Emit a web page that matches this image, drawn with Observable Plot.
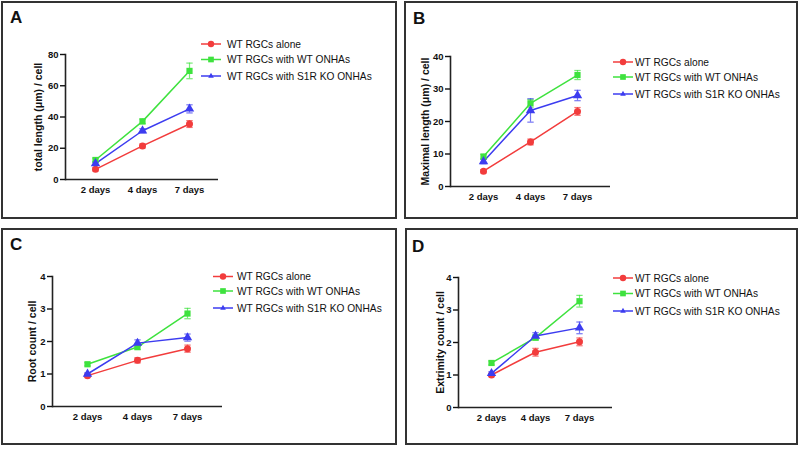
<!DOCTYPE html>
<html><head><meta charset="utf-8">
<script src="https://cdn.jsdelivr.net/npm/d3@7"></script>
<script src="https://cdn.jsdelivr.net/npm/@observablehq/plot@0.6"></script>
<style>
body{margin:0;background:#fff;font-family:"Liberation Sans",Arial,sans-serif;}
#root{position:relative;width:800px;height:449px;overflow:hidden;background:#fff;}
.panel{position:absolute;box-sizing:border-box;border:2px solid #333;}
.letter{position:absolute;font-weight:bold;font-size:17px;line-height:1;color:#111;}
#root svg{position:absolute;}
</style>
</head><body><div id="root"></div>
<script>
// ---- data ----
const days = ["2 days", "4 days", "7 days"];
const seriesNames = ["WT RGCs alone", "WT RGCs with WT ONHAs", "WT RGCs with S1R KO ONHAs"];
const seriesColors = ["#f23c3c", "#3ee23e", "#3c3cf0"];
const seriesSymbols = ["circle", "square", "triangle"];
const panelLetters = ["A", "B", "C", "D"];
const yLabels = ["total length (μm) / cell", "Maximal length (μm) / cell", "Root count / cell", "Extrimity count / cell"];
const yTicksA = [0, 20, 40, 60, 80];
const yTicksB = [0, 10, 20, 30, 40];
const yTicksC = [0, 1, 2, 3, 4];
const yTicksD = [0, 1, 2, 3, 4];

const totalLengthMean = [[6.5, 21.5, 35.5], [12.5, 37.2, 69.5], [10.2, 31.2, 45.2]];
const totalLengthSem  = [[1.0, 1.3, 2.2], [1.2, 1.5, 5.0], [1.0, 1.3, 2.6]];
const maxLengthMean   = [[4.7, 13.7, 23.1], [9.2, 25.6, 34.3], [7.7, 23.4, 28.0]];
const maxLengthSem    = [[0.5, 0.9, 1.2], [0.7, 1.2, 1.4], [0.7, 3.6, 1.6]];
const rootCountMean   = [[0.95, 1.42, 1.78], [1.30, 1.83, 2.86], [1.00, 1.95, 2.12]];
const rootCountSem    = [[0.05, 0.08, 0.11], [0.05, 0.08, 0.16], [0.04, 0.10, 0.11]];
const extrimityMean   = [[1.00, 1.70, 2.02], [1.37, 2.15, 3.27], [1.05, 2.20, 2.45]];
const extrimitySem    = [[0.05, 0.12, 0.12], [0.06, 0.08, 0.18], [0.05, 0.10, 0.18]];

// ---- layout ----
const panels = [
  {box:[1,1,396,218], m:[53,179,40,64], pad:0.62, ticks:yTicksA, mean:totalLengthMean, sem:totalLengthSem, labelDx:-27, leg:{mx:211, tx:227, ys:[44,59.5,76]}, letter:[10,9]},
  {box:[404,1,394,218], m:[55,188,33,46], pad:0.68, ticks:yTicksB, mean:maxLengthMean, sem:maxLengthSem, labelDx:-25, leg:{mx:623, tx:635, ys:[62,77,94]}, letter:[413,10]},
  {box:[1,228,396,217], m:[48,175,39,51], pad:0.68, ticks:yTicksC, mean:rootCountMean, sem:rootCountSem, labelDx:-20, leg:{mx:223, tx:237, ys:[276.5,291,308]}, letter:[10,236]},
  {box:[405,228,393,217], m:[49,186,38,53], pad:0.73, ticks:yTicksD, mean:extrimityMean, sem:extrimitySem, labelDx:-18, leg:{mx:623, tx:635, ys:[278,293.5,311]}, letter:[412,238]}
];

const root = document.getElementById("root");
const capSymbol = {draw(ctx, size){ const w = Math.sqrt(size) / 2; ctx.moveTo(-w, 0); ctx.lineTo(w, 0); }};
const FONT = "Liberation Sans, Arial, sans-serif";

panels.forEach((p, k) => {
  const [bx, by, bw, bh] = p.box;
  const box = document.createElement("div");
  box.className = "panel";
  Object.assign(box.style, {left: bx + "px", top: by + "px", width: bw + "px", height: bh + "px"});
  root.appendChild(box);

  const rows = [];
  seriesNames.forEach((s, i) => days.forEach((d, j) => rows.push({day: d, series: s, mean: p.mean[i][j], lo: p.mean[i][j] - p.sem[i][j], hi: p.mean[i][j] + p.sem[i][j]})));

  const svg = Plot.plot({
    width: bw, height: bh,
    marginTop: p.m[0], marginRight: p.m[1], marginBottom: p.m[2], marginLeft: p.m[3],
    style: {background: "transparent", overflow: "visible", fontFamily: FONT, color: "#111"},
    x: {type: "point", domain: days, padding: p.pad},
    y: {domain: [p.ticks[0], p.ticks[p.ticks.length - 1]]},
    color: {domain: seriesNames, range: seriesColors},
    symbol: {domain: seriesNames, range: seriesSymbols},
    marks: [
      Plot.ruleX(rows, {x: "day", y1: "lo", y2: "hi", stroke: "series", strokeWidth: 1.2, strokeOpacity: 0.7}),
      Plot.dot(rows, {x: "day", y: "lo", symbol: capSymbol, r: 3.6, stroke: "series", fill: "none", strokeWidth: 1.2, strokeOpacity: 0.7}),
      Plot.dot(rows, {x: "day", y: "hi", symbol: capSymbol, r: 3.6, stroke: "series", fill: "none", strokeWidth: 1.2, strokeOpacity: 0.7}),
      Plot.line(rows, {x: "day", y: "mean", z: "series", stroke: "series", strokeWidth: 1.5}),
      Plot.dot(rows, {x: "day", y: "mean", symbol: "series", fill: "series", stroke: "none", r: 3.5}),
      Plot.ruleY([p.ticks[0]], {stroke: "#222", strokeWidth: 1.6}),
      Plot.frame({anchor: "left", stroke: "#222", strokeWidth: 1.6}),
      Plot.axisY({ticks: p.ticks, tickFormat: d => String(d), tickSize: 5, tickPadding: 2, fontSize: 9.5, fontWeight: "bold", label: null, strokeWidth: 1.4}),
      Plot.axisX({tickSize: 0, tickPadding: 7, fontSize: 9.5, fontWeight: "bold", label: null}),
      Plot.text([yLabels[k]], {frameAnchor: "left", textAnchor: "middle", lineAnchor: "middle", dx: p.labelDx, rotate: -90, fontSize: 10.5, fontWeight: "bold", fill: "#111"})
    ]
  });
  svg.style.left = bx + "px";
  svg.style.top = by + "px";
  root.appendChild(svg);

  const L = document.createElement("div");
  L.className = "letter";
  L.textContent = panelLetters[k];
  L.style.left = p.letter[0] + "px";
  L.style.top = p.letter[1] + "px";
  root.appendChild(L);
});

// ---- legends ----
const overlay = d3.select(root).append("svg").attr("width", 800).attr("height", 449).style("left", "0px").style("top", "0px");
const d3Sym = {circle: d3.symbolCircle, square: d3.symbolSquare, triangle: d3.symbolTriangle2};
const legSize = {circle: 3.2, square: 3.2, triangle: 2.7};
panels.forEach(p => {
  seriesNames.forEach((s, i) => {
    const y = p.leg.ys[i];
    const g = overlay.append("g");
    g.append("line").attr("x1", p.leg.mx - 10).attr("x2", p.leg.mx + 10).attr("y1", y).attr("y2", y)
      .attr("stroke", seriesColors[i]).attr("stroke-width", 1.5);
    const r = legSize[seriesSymbols[i]];
    g.append("path").attr("d", d3.symbol(d3Sym[seriesSymbols[i]], Math.PI * r * r)())
      .attr("transform", `translate(${p.leg.mx},${y})`).attr("fill", seriesColors[i]);
    g.append("text").attr("x", p.leg.tx).attr("y", y).attr("dy", "0.35em")
      .attr("font-family", FONT).attr("font-size", 10.2).attr("fill", "#111").text(s);
  });
});
</script>
</body></html>
